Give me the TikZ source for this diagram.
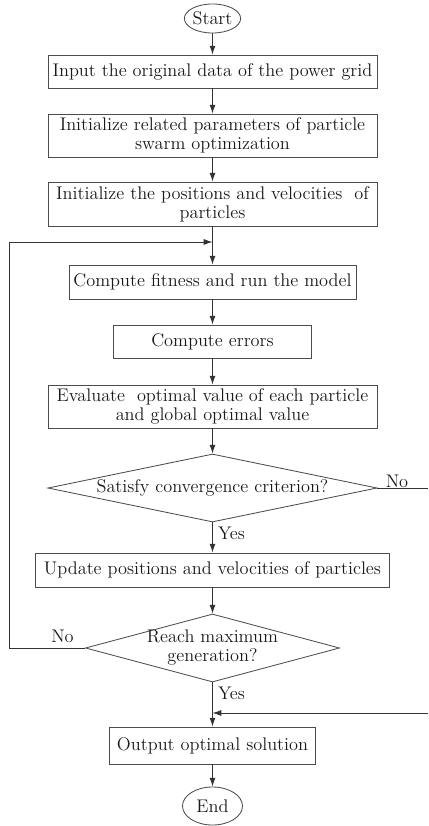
\documentclass[tikz,border=0pt]{standalone}
\usepackage{tikz}
\usetikzlibrary{shapes.geometric,arrows.meta}

\begin{document}
\begin{tikzpicture}[x=0.025cm,y=-0.025cm,
    every node/.style={font=\fontsize{13}{13.5}\selectfont,text=black!90},
    box/.style={draw=black!70,line width=0.6pt,rectangle,inner sep=0pt,align=center},
    term/.style={draw=black!70,line width=0.6pt,ellipse,inner sep=0pt},
    test/.style={draw=black!70,line width=0.6pt,diamond,inner sep=0pt,align=center},
    arr/.style={draw=black!80,line width=0.6pt,-{Latex[length=2.2mm,width=1.5mm]}},
    line/.style={draw=black!80,line width=0.6pt}]
    \useasboundingbox (0,0) rectangle (428,826);

    \node[term,minimum width=1.3cm,minimum height=0.725cm] (start) at (212.5,18.5) {Start};
    \node[box,minimum width=8.225cm,minimum height=0.825cm] (input) at (212.5,71.5) {Input the original data of the power grid};
    \node[box,minimum width=8.225cm,minimum height=1.075cm] (initpso) at (212.5,135.5) {Initialize related parameters of particle\\swarm optimization};
    \node[box,minimum width=8.225cm,minimum height=1.1cm] (initpos) at (212.5,204) {Initialize the positions and velocities \ of\\particles};
    \node[box,minimum width=7.175cm,minimum height=0.85cm] (fitness) at (212.5,282) {Compute fitness and run the model};
    \node[box,minimum width=4.95cm,minimum height=0.825cm] (errors) at (212.5,341.5) {Compute errors};
    \node[box,minimum width=8.225cm,minimum height=1.075cm] (evaluate) at (212.5,406.5) {Evaluate \ optimal value of each particle\\and global optimal value};
    \node[test,minimum width=8.225cm,minimum height=1.7cm,aspect=4.8] (conv) at (212.5,488) {Satisfy convergence criterion?};
    \node[box,minimum width=8.85cm,minimum height=0.85cm] (update) at (212.5,570) {Update positions and velocities of particles};
    \node[test,minimum width=6.35cm,minimum height=1.7cm,aspect=3.7,inner ysep=-4pt,inner xsep=-2pt] (maxgen) at (212.5,648) {Reach maximum\\generation?};
    \node[box,minimum width=5.15cm,minimum height=0.925cm] (output) at (212.5,745.5) {Output optimal solution};
    \node[term,minimum width=1.5cm,minimum height=0.95cm] (end) at (212.5,806) {End};

    \coordinate (join) at (212.5,242);
    \coordinate (loop) at (9.5,242);
    \coordinate (merge) at (212.5,713);
    \coordinate (edge1) at (428,488);
    \coordinate (edge2) at (428,713);

    \node (yes1) at (231.5,533) {Yes};
    \node (yes2) at (231.5,693) {Yes};
    \node (no1) at (397,481) {No};
    \node (no2) at (62.5,636) {No};

    \draw[arr] (start) -- (input);
    \draw[arr] (input) -- (initpso);
    \draw[arr] (initpso) -- (initpos);
    \draw[arr] (initpos) -- (fitness);
    \draw[arr] (fitness) -- (errors);
    \draw[arr] (errors) -- (evaluate);
    \draw[arr] (evaluate) -- (conv);
    \draw[arr] (conv) -- (update);
    \draw[arr] (update) -- (maxgen);
    \draw[arr] (maxgen) -- (output);
    \draw[arr] (output) -- (end);

    \draw[line] (conv.east) -- (edge1);
    \draw[arr] (maxgen.west) -| (loop) -- (join);
    \draw[arr] (edge2) -- (merge);
\end{tikzpicture}
\end{document}
